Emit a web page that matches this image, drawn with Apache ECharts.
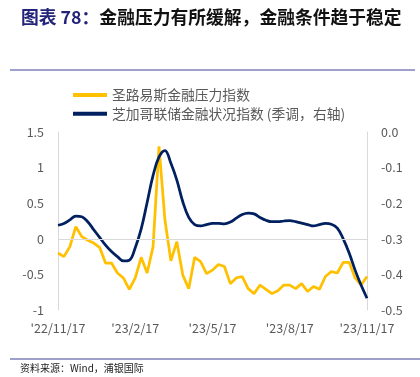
<!DOCTYPE html>
<html>
<meta charset="utf-8" />
<head>
  <script src="https://cdn.jsdelivr.net/npm/echarts@6.0.0/dist/echarts.min.js"></script>
  <style>
    html, body { margin: 0; padding: 0; background: #fff; }
    #chart { width: 420px; height: 377px; }
  </style>
</head>
<body>
  <div id="chart"></div>
  <script>
    // weekly, 2022-11-17 .. 2023-11-17
    const tickLabels = ["'22/11/17", "'23/2/17", "'23/5/17", "'23/8/17", "'23/11/17"];
    const tickStep = 13;

    // St. Louis Fed financial stress index (left)
    const stlfsi = [
      -0.20, -0.25, -0.11, 0.17, 0.03, -0.02, -0.06, -0.12, -0.34, -0.34,
      -0.48, -0.55, -0.71, -0.55, -0.26, -0.48, -0.11, 1.30, 0.26, -0.31,
      -0.04, -0.51, -0.70, -0.26, -0.32, -0.49, -0.44, -0.36, -0.39, -0.63,
      -0.55, -0.53, -0.70, -0.77, -0.65, -0.71, -0.77, -0.73, -0.65, -0.65,
      -0.70, -0.63, -0.74, -0.67, -0.71, -0.53, -0.46, -0.48, -0.33, -0.33,
      -0.55, -0.65, -0.53
    ];
    // Chicago Fed NFCI, seasonally adjusted (right)
    const nfci = [
      -0.262, -0.257, -0.247, -0.236, -0.238, -0.252, -0.274, -0.296, -0.318, -0.336,
      -0.350, -0.362, -0.360, -0.325, -0.272, -0.198, -0.122, -0.070, -0.052, -0.088,
      -0.135, -0.196, -0.240, -0.260, -0.264, -0.260, -0.257, -0.257, -0.258, -0.253,
      -0.242, -0.232, -0.228, -0.230, -0.240, -0.248, -0.252, -0.252, -0.250, -0.249,
      -0.252, -0.256, -0.260, -0.264, -0.260, -0.257, -0.259, -0.270, -0.300, -0.340,
      -0.388, -0.430, -0.467
    ];

    const categories = stlfsi.map((v, i) => (i % tickStep === 0 ? tickLabels[i / tickStep] : ''));

    const myChart = echarts.init(document.getElementById('chart'));
    const labelColor = '#595959';
    const font = '"Microsoft YaHei", "Noto Sans CJK SC", sans-serif';

    const option = {
      animation: false,
      textStyle: { fontFamily: font },
      graphic: [
        {
          type: 'text', left: 21, top: 8,
          style: {
            text: '{a|图表 78：}{b|金融压力有所缓解，金融条件趋于稳定}',
            rich: {
              a: { fontSize: 17.8, fontWeight: 'bold', fill: '#23237a', fontFamily: font },
              b: { fontSize: 17.8, fontWeight: 'bold', fill: '#111', fontFamily: font }
            }
          }
        },
        { type: 'rect', shape: { x: 10, y: 69, width: 405, height: 2 }, style: { fill: '#9f9fcb' } },
        { type: 'rect', shape: { x: 10, y: 358, width: 410, height: 2 }, style: { fill: '#9f9fcb' } },
        {
          type: 'text', left: 20, top: 363,
          style: { text: '资料来源：Wind，浦银国际', fontSize: 10, fill: '#222', fontFamily: font }
        }
      ],
      legend: {
        orient: 'vertical',
        left: 68,
        top: 83,
        itemWidth: 34,
        itemHeight: 4,
        itemGap: 5,
        icon: 'rect',
        textStyle: { fontSize: 13.8, color: labelColor, padding: [0, 0, 0, 0] },
        data: ['圣路易斯金融压力指数', '芝加哥联储金融状况指数 (季调，右轴)']
      },
      grid: { left: 58, right: 53, top: 132, bottom: 67 },
      xAxis: {
        type: 'category',
        data: categories,
        boundaryGap: false,
        axisLine: { show: false },
        axisTick: { show: false },
        axisLabel: {
          interval: 0,
          color: labelColor,
          fontSize: 12.5,
          margin: 12
        }
      },
      yAxis: [
        {
          type: 'value', min: -1, max: 1.5, interval: 0.5,
          axisLine: { show: true, lineStyle: { color: '#d9d9d9' } },
          axisTick: { show: false },
          splitLine: { show: false },
          axisLabel: { color: labelColor, fontSize: 12.5, margin: 14 }
        },
        {
          type: 'value', min: -0.5, max: 0, interval: 0.1,
          axisLine: { show: true, lineStyle: { color: '#d9d9d9' } },
          axisTick: { show: false },
          splitLine: { show: false },
          axisLabel: {
            color: labelColor, fontSize: 12.5, margin: 14,
            formatter: (v) => v.toFixed(1)
          }
        }
      ],
      series: [
        {
          name: '圣路易斯金融压力指数',
          type: 'line',
          data: stlfsi,
          yAxisIndex: 0,
          symbol: 'none',
          color: '#ffc000',
          lineStyle: { width: 2.75, color: '#ffc000' },
          z: 3,
          markLine: {
            silent: true,
            symbol: 'none',
            label: { show: false },
            lineStyle: { color: '#d9d9d9', width: 1, type: 'solid' },
            data: [{ yAxis: 0 }]
          }
        },
        {
          name: '芝加哥联储金融状况指数 (季调，右轴)',
          type: 'line',
          data: nfci,
          yAxisIndex: 1,
          symbol: 'none',
          smooth: 0.4,
          color: '#002060',
          lineStyle: { width: 2.75, color: '#002060' },
          z: 4
        }
      ]
    };
    myChart.setOption(option);
  </script>
</body>
</html>
